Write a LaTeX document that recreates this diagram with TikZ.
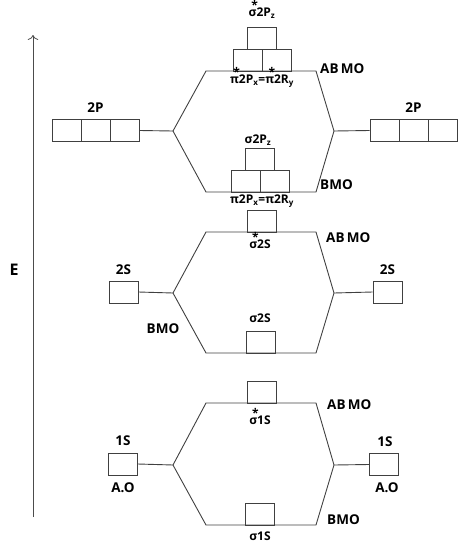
\documentclass[tikz,border=0pt]{standalone}
\usepackage{fontspec}
\setmainfont{Open Sans}
\usetikzlibrary{arrows.meta}

% star set above a letter (antibonding)
\newcommand{\antib}[1]{\setbox0\hbox{#1}\rlap{\raisebox{0.6em}[0pt][0pt]{\makebox[\wd0]{\hspace{0.35em}*}}}#1}

\tikzset{
  orb/.style={draw=black!75, line width=0.9pt, minimum width=29pt, minimum height=22pt, inner sep=0pt},
  lvl/.style={draw=black!75, line width=0.9pt},
  lbl/.style={font=\bfseries\fontsize{13.5}{13.5}\selectfont, inner sep=0pt},
  sub/.style={font=\bfseries\fontsize{12}{12}\selectfont, inner sep=0pt},
}

\begin{document}
\begin{tikzpicture}[x=1pt,y=-1pt]
\useasboundingbox (0,0) rectangle (468,552);

% Energy axis
\coordinate (ebot) at (33,517);
\coordinate (etop) at (33,35);
\draw[black!70,line width=0.8pt,-{To[length=5pt]}] (ebot) -- (etop);
\node[lbl,font=\bfseries\fontsize{16}{16}\selectfont] (elbl) at (14,270) {E};

% ---- 2P block ----
\coordinate (v2pl) at (173,131);
\coordinate (v2pr) at (334,131);
\coordinate (a2pl) at (206,71);
\coordinate (a2pr) at (316,71);
\coordinate (b2pl) at (206,192);
\coordinate (b2pr) at (316,192);
\draw[lvl] (v2pl) -- (a2pl) -- (a2pr) -- (v2pr) -- (b2pr) -- (b2pl) -- cycle;

% atomic 2P boxes
\foreach \i in {0,1,2} {
  \node[orb] (l2p\i) at (66.5+29*\i,130.5) {};
  \node[orb] (r2p\i) at (384.5+29*\i,130.5) {};
}
\node[lbl] (l2plbl) at (95.5,108) {2P};
\node[lbl] (r2plbl) at (413.5,108) {2P};
\draw[lvl] (l2p2.east) -- (v2pl);
\draw[lvl] (v2pr) -- (r2p0.west);

% antibonding 2P
\node[orb] (ap1) at (247.5,60) {};
\node[orb] (ap2) at (276.5,60) {};
\node[orb] (apz) at (262,38) {};
\node[sub] (apzlbl) at (262,13) {\antib{σ}2P\textsubscript{z}};
\node[sub] (apxlbl) at (262,81) {\antib{π}2P\textsubscript{x}=\antib{π}2R\textsubscript{y}};
\node[lbl,anchor=west] (abmo2p) at (320,69) {AB\,MO};

% bonding 2P
\node[orb] (bp1) at (245.5,181) {};
\node[orb] (bp2) at (274.5,181) {};
\node[orb] (bpz) at (260,159) {};
\node[sub] (bpzlbl) at (258,140) {σ2P\textsubscript{z}};
\node[sub] (bpxlbl) at (262,201) {π2P\textsubscript{x}=π2R\textsubscript{y}};
\node[lbl,anchor=west] (bmo2p) at (320,185) {BMO};

% ---- 2S block ----
\coordinate (v2sl) at (173,293);
\coordinate (v2sr) at (334,293);
\coordinate (a2sl) at (206,232);
\coordinate (a2sr) at (316,232);
\coordinate (b2sl) at (206,353);
\coordinate (b2sr) at (316,353);
\draw[lvl] (v2sl) -- (a2sl) -- (a2sr) -- (v2sr) -- (b2sr) -- (b2sl) -- cycle;

\node[orb] (l2s) at (123.5,292) {};
\node[orb] (r2s) at (387.5,292) {};
\node[lbl] (l2slbl) at (123.5,270) {2S};
\node[lbl] (r2slbl) at (387.5,270) {2S};
\draw[lvl] (l2s.east) -- (v2sl);
\draw[lvl] (v2sr) -- (r2s.west);

\node[orb] (as2) at (262,221) {};
\node[sub] (as2lbl) at (260,244) {\antib{σ}2S};
\node[lbl,anchor=west] (abmo2s) at (326,238) {AB\,MO};

\node[orb] (bs2) at (260.5,342) {};
\node[sub] (bs2lbl) at (260,318) {σ2S};
\node[lbl] (bmo2s) at (163,329) {BMO};

% ---- 1S block ----
\coordinate (v1sl) at (173,465);
\coordinate (v1sr) at (334,465);
\coordinate (a1sl) at (206,403);
\coordinate (a1sr) at (316,403);
\coordinate (b1sl) at (206,525);
\coordinate (b1sr) at (316,525);
\draw[lvl] (v1sl) -- (a1sl) -- (a1sr) -- (v1sr) -- (b1sr) -- (b1sl) -- cycle;

\node[orb] (l1s) at (123,464) {};
\node[orb] (r1s) at (384,464.5) {};
\node[lbl] (l1slbl) at (123,441) {1S};
\node[lbl] (r1slbl) at (385,442) {1S};
\node[lbl] (l1sao) at (123,488) {A.O};
\node[lbl] (r1sao) at (387,488) {A.O};
\draw[lvl] (l1s.east) -- (v1sl);
\draw[lvl] (v1sr) -- (r1s.west);

\node[orb] (as1) at (262,392) {};
\node[sub] (as1lbl) at (260,420) {\antib{σ}1S};
\node[lbl,anchor=west] (abmo1s) at (327,405) {AB\,MO};

\node[orb] (bs1) at (260,514) {};
\node[sub] (bs1lbl) at (260,536) {σ1S};
\node[lbl,anchor=west] (bmo1s) at (327,520) {BMO};
\end{tikzpicture}
\end{document}
